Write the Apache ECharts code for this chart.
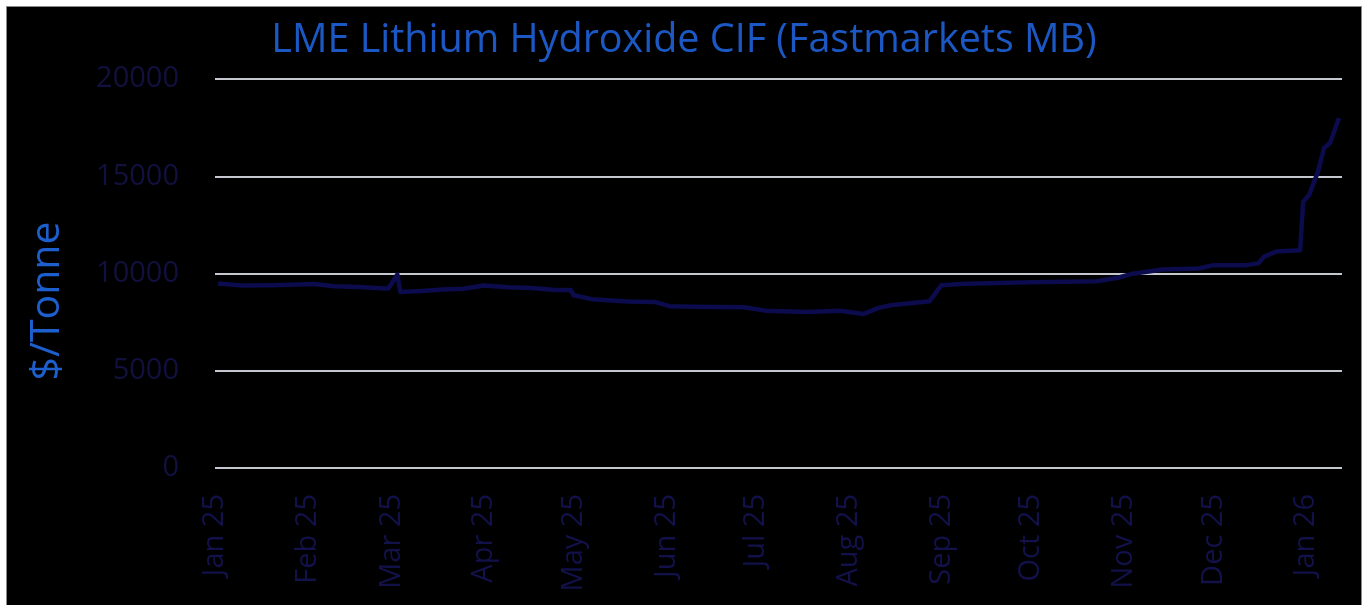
<!DOCTYPE html>
<html>
<head>
<meta charset="utf-8">
<script src="https://cdn.jsdelivr.net/npm/echarts@6/dist/echarts.min.js"></script>
<style>
html,body{margin:0;padding:0;background:#ffffff;width:1366px;height:605px;overflow:hidden;}
#chart{position:absolute;left:7px;top:7px;width:1354px;height:598px;background:#000;}
#frame{position:absolute;left:6px;top:6px;width:1356px;height:600px;border-left:1px solid #8a8a8a;border-top:1px solid #8a8a8a;border-right:1px solid #8a8a8a;box-sizing:border-box;pointer-events:none;}
</style>
</head>
<body>
<div id="frame"></div>
<div id="chart"></div>
<script>
const titleText = 'LME Lithium Hydroxide CIF (Fastmarkets MB)';
const yAxisName = '$/Tonne';
const dates = [
  '2025-01-02','2025-01-10','2025-01-20','2025-02-03','2025-02-10','2025-02-18','2025-02-27','2025-02-28',
  '2025-03-03','2025-03-04','2025-03-11','2025-03-18','2025-03-25','2025-04-01','2025-04-09','2025-04-17',
  '2025-04-25','2025-04-30','2025-05-01','2025-05-07','2025-05-19','2025-05-28','2025-06-02','2025-06-16',
  '2025-06-27','2025-07-04','2025-07-18','2025-07-29','2025-08-06','2025-08-11','2025-08-15','2025-08-20',
  '2025-08-28','2025-09-01','2025-09-09','2025-10-01','2025-10-23','2025-10-30','2025-11-04','2025-11-14',
  '2025-11-26','2025-12-01','2025-12-12','2025-12-16','2025-12-18','2025-12-22','2025-12-30','2025-12-31',
  '2026-01-02','2026-01-05','2026-01-07','2026-01-09','2026-01-12'
];
const prices = [
  9480,9380,9400,9460,9340,9300,9230,9230,
  9950,9050,9100,9180,9220,9380,9290,9250,
  9150,9150,8880,8680,8560,8540,8320,8280,
  8260,8090,8020,8090,7920,8230,8370,8440,
  8570,9400,9470,9550,9600,9780,9990,10210,
  10260,10430,10430,10520,10870,11130,11200,13690,
  14040,15250,16450,16710,18000
];
const monthTicks = ['2025-01-01','2025-02-01','2025-03-01','2025-04-01','2025-05-01','2025-06-01','2025-07-01',
  '2025-08-01','2025-09-01','2025-10-01','2025-11-01','2025-12-01','2026-01-01'];
const monthLabels = ['Jan 25','Feb 25','Mar 25','Apr 25','May 25','Jun 25','Jul 25','Aug 25','Sep 25','Oct 25','Nov 25','Dec 25','Jan 26'];
const yTicks = [0, 5000, 10000, 15000, 20000];

const toTs = s => new Date(s + 'T00:00:00').getTime();
const monthTs = monthTicks.map(toTs);
const seriesData = dates.map((d, i) => [toTs(d), prices[i]]);

const chart = echarts.init(document.getElementById('chart'), null, {renderer: 'canvas'});
chart.setOption({
  backgroundColor: '#000000',
  animation: false,
  title: {
    text: titleText,
    left: 'center',
    top: 9,
    textStyle: {color: '#1c58c4', fontSize: 39.5, fontWeight: 'normal', fontFamily: 'Open Sans'}
  },
  grid: {left: 208, right: 19, top: 72, bottom: 137},
  xAxis: {
    type: 'value',
    min: toTs('2025-01-01'),
    max: toTs('2026-01-13'),
    axisLine: {show: false},
    axisTick: {show: false},
    splitLine: {show: false},
    axisLabel: {
      customValues: monthTs,
      rotate: 90,
      margin: 26,
      color: '#12114a',
      fontSize: 29,
      fontFamily: 'Open Sans',
      hideOverlap: false,
      showMinLabel: true,
      showMaxLabel: true,
      formatter: v => {
        const i = monthTs.indexOf(v);
        return i >= 0 ? monthLabels[i] : '';
      }
    }
  },
  yAxis: {
    type: 'value',
    min: yTicks[0],
    max: yTicks[yTicks.length - 1],
    interval: 5000,
    axisLine: {show: false},
    axisTick: {show: false},
    splitLine: {lineStyle: {color: '#c4c8ce', width: 2}},
    axisLabel: {
      color: '#11103f', fontSize: 29, fontFamily: 'Open Sans', margin: 36,
      formatter: v => String(v)
    }
  },
  graphic: [{
    type: 'text',
    x: 40,
    y: 294,
    rotation: Math.PI / 2,
    style: {
      text: yAxisName,
      fill: '#1d5fcc',
      fontSize: 41,
      fontFamily: 'Open Sans',
      align: 'center',
      verticalAlign: 'middle'
    }
  }],
  series: [{
    type: 'line',
    data: seriesData,
    showSymbol: false,
    symbol: 'none',
    lineStyle: {color: '#0c0b4e', width: 4.5, join: 'round'}
  }]
});
</script>
</body>
</html>
